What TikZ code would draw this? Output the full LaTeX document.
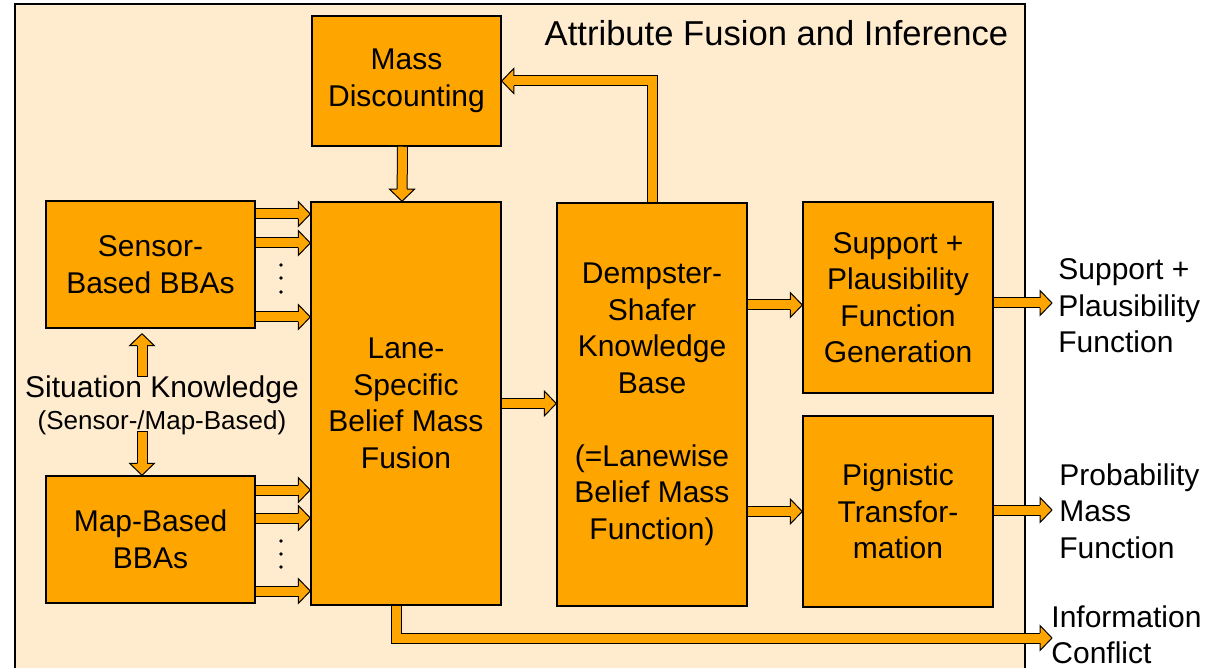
\documentclass[tikz,border=0pt]{standalone}
\usepackage{fontspec}
\setmainfont{Liberation Sans}
\definecolor{boxorange}{RGB}{255,165,0}
\definecolor{panelfill}{RGB}{255,235,205}
\tikzset{
  blk/.style={draw, line width=0.75pt, fill=boxorange, align=center, inner sep=0pt,
    font=\fontsize{15}{18.25}\selectfont},
  lbl/.style={align=left, anchor=west, inner sep=0pt, font=\fontsize{15}{18.25}\selectfont},
  shaft/.style={draw=black, line width=0.5pt, double=boxorange, double distance=4.5pt,
    shorten >=5.75pt},
  freeend/.style={line cap=rect},
  pics/head/.style={code={
    \filldraw[fill=boxorange, draw=black, line width=0.5pt, line join=miter]
      (-6pt,2.5pt) -- (-6pt,6.25pt) -- (0,0) -- (-6pt,-6.25pt) -- (-6pt,-2.5pt);}}
}
% block arrow: [direction] {start} {tip}
\newcommand\blkarrow[3][0]{\draw[shaft] #2 -- #3; \pic[rotate=#1] at #3 {head};}
\begin{document}
\begin{tikzpicture}[x=0.5pt, y=-0.5pt]
\useasboundingbox (0,0) rectangle (1211,668);
\draw[line width=0.75pt, fill=panelfill] (15,4) rectangle (1025,700);
\node[inner sep=0pt, font=\fontsize{17.3}{20}\selectfont] (title) at (776.5,33) {Attribute Fusion and Inference};

\node[blk, minimum width=94.5pt, minimum height=65pt] (mass) at (406.5,81) {Mass\\Discounting};
\node[blk, minimum width=104.5pt, minimum height=63.5pt] (sensor) at (150.5,264.5) {Sensor-\\Based BBAs};
\node[blk, minimum width=104.5pt, minimum height=63.5pt] (map) at (150.5,539.5) {Map-Based\\BBAs};
\node[blk, minimum width=95pt, minimum height=201.5pt] (lane) at (406,403.5) {Lane-\\Specific\\Belief Mass\\Fusion};
\node[blk, minimum width=95pt, minimum height=201.5pt] (ds) at (652,404.5) {Dempster-\\Shafer\\Knowledge\\Base\\[18.25pt](=Lanewise\\Belief Mass\\Function)};
\node[blk, minimum width=95pt, minimum height=95.5pt] (supp) at (898,297.5) {Support +\\Plausibility\\Function\\Generation};
\node[blk, minimum width=95pt, minimum height=95.5pt] (pign) at (898,511.5) {Pignistic\\Transfor-\\mation};

\node[align=center, inner sep=0pt, font=\fontsize{15}{18.25}\selectfont] (sitk) at (162,405) {Situation Knowledge\\[-2.25pt]{\fontsize{13}{15}\selectfont(Sensor-/Map-Based)}};
\coordinate (kup) at (142,372);
\coordinate (kdown) at (142,436);
\draw[shaft, freeend] (kup) -- ([xshift=-4.25pt,yshift=-2.5pt]sensor.south);
\pic[rotate=90] at ([xshift=-4.25pt,yshift=-2.5pt]sensor.south) {head};
\draw[shaft, freeend] (kdown) -- ([xshift=-4.25pt]map.north);
\pic[rotate=-90] at ([xshift=-4.25pt]map.north) {head};

\foreach \dy in {25.25,10.75,-26.25}{
  \coordinate (s) at ([yshift=\dy pt]sensor.east);
  \blkarrow{(s)}{(s -| lane.west)}
}
\foreach \dy in {24.75,10.75,-25.75}{
  \coordinate (m) at ([yshift=\dy pt]map.east);
  \blkarrow{(m)}{(m -| lane.west)}
}
\foreach \y in {265,278,292,541,554,567}
  \fill (281,\y) circle[radius=0.9pt];

\blkarrow[-90]{([xshift=-2pt]mass.south)}{([xshift=-2pt]lane.north)}
\blkarrow{(lane.east)}{(lane.east -| ds.west)}
\coordinate (b) at ([yshift=-3.75pt]supp.west);
\blkarrow{(b -| ds.east)}{(b)}
\blkarrow{(pign.west -| ds.east)}{(pign.west)}

\draw[shaft] (ds.north) |- (mass.east);
\pic[rotate=180] at (mass.east) {head};

\coordinate (suppout) at (1052,303);
\coordinate (pignout) at (1052,510);
\coordinate (conflict) at (1052,638);
\blkarrow{(suppout -| supp.east)}{(suppout)}
\blkarrow{(pignout -| pign.east)}{(pignout)}
\draw[shaft] ([xshift=-5pt]lane.south) |- (conflict);
\pic at (conflict) {head};

\node[lbl] (supplbl) at (1058,306) {Support +\\Plausibility\\Function};
\node[lbl] (pignlbl) at (1059,511) {Probability\\Mass\\Function};
\node[lbl] (conflbl) at (1051,635) {Information\\Conflict};
\end{tikzpicture}
\end{document}
